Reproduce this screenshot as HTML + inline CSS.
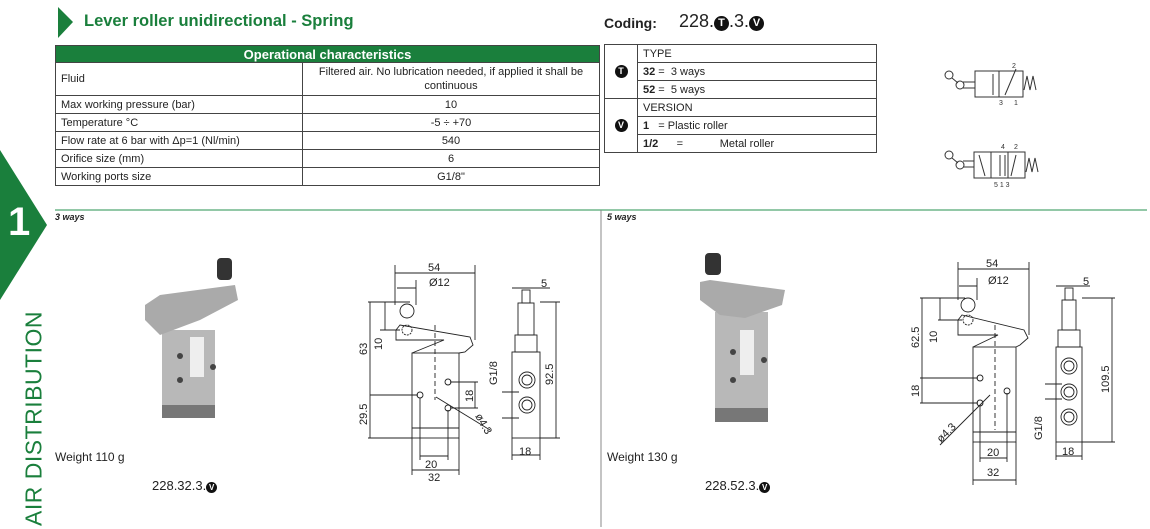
<!DOCTYPE html>
<html><head><meta charset="utf-8"><style>
body{margin:0;width:1150px;height:527px;background:#fff;position:relative;overflow:hidden;font-family:"Liberation Sans",sans-serif;color:#222}
.a{position:absolute;white-space:nowrap}
table{border-collapse:collapse;position:absolute;font-size:11px}
td{border:1px solid #444;padding:0 5px;height:17px}
</style></head><body>
<svg class="a" style="left:0;top:0" width="1150" height="527">
<polygon points="58,7 73,22 58,38" fill="#1a7f3c"/>
<polygon points="0,150 47,225 0,300" fill="#1a7f3c"/>
<line x1="55" y1="210" x2="1147" y2="210" stroke="#6fb58a" stroke-width="1.5"/>
<line x1="601" y1="210" x2="601" y2="527" stroke="#888" stroke-width="1"/>
<g stroke="#333" fill="none" stroke-width="1">
<rect x="975" y="71" width="48" height="26"/><line x1="999" y1="71" x2="999" y2="97"/>
<circle cx="949" cy="75" r="4"/><circle cx="960" cy="85" r="4"/><line x1="952" y1="78" x2="958" y2="83"/><line x1="963" y1="82" x2="975" y2="82"/><line x1="963" y1="88" x2="975" y2="88"/>
<line x1="993" y1="95" x2="993" y2="74"/><line x1="1016" y1="69" x2="1005" y2="95"/>
<polyline points="1024,90 1027,76 1030,90 1033,76 1036,90"/>
<rect x="974" y="152" width="51" height="26"/><line x1="991" y1="152" x2="991" y2="178"/><line x1="1008" y1="152" x2="1008" y2="178"/>
<circle cx="949" cy="155" r="4"/><circle cx="960" cy="165" r="4"/><line x1="952" y1="158" x2="958" y2="163"/><line x1="963" y1="161" x2="974" y2="161"/><line x1="963" y1="167" x2="974" y2="167"/>
<line x1="979" y1="155" x2="985" y2="176"/><line x1="1000" y1="155" x2="1000" y2="176"/><line x1="1005" y1="155" x2="1005" y2="176"/><line x1="1016" y1="155" x2="1011" y2="176"/>
<polyline points="1026,172 1029,158 1032,172 1035,158 1038,172"/>
</g>
<g font-size="7" fill="#333"><text x="1012" y="68">2</text><text x="999" y="105">3</text><text x="1014" y="105">1</text>
<text x="1001" y="149">4</text><text x="1014" y="149">2</text><text x="994" y="187">5 1 3</text></g>
<g>
<rect x="162" y="330" width="53" height="88" fill="#b8b8b8"/><rect x="162" y="405" width="53" height="13" fill="#777"/>
<rect x="190" y="337" width="14" height="40" fill="#eee"/>
<polygon points="145,305 160,295 235,285 238,300 200,320 160,335 145,320" fill="#aaa"/>
<rect x="217" y="258" width="15" height="22" rx="4" fill="#333"/>
<circle cx="180" cy="356" r="3" fill="#444"/><circle cx="180" cy="380" r="3" fill="#444"/><circle cx="213" cy="367" r="3" fill="#444"/>
<rect x="715" y="312" width="53" height="110" fill="#b8b8b8"/><rect x="715" y="408" width="53" height="14" fill="#777"/>
<rect x="740" y="330" width="14" height="45" fill="#eee"/>
<polygon points="700,282 710,280 785,290 782,305 745,318 720,315 700,300" fill="#aaa"/>
<rect x="705" y="253" width="16" height="22" rx="4" fill="#333"/>
<circle cx="733" cy="352" r="3" fill="#444"/><circle cx="733" cy="380" r="3" fill="#444"/><circle cx="764" cy="360" r="3" fill="#444"/>
</g>
<g stroke="#222" fill="none" stroke-width="0.9">
<rect x="412" y="353" width="47" height="85"/><line x1="412" y1="428" x2="459" y2="428"/>
<polyline points="396,330 400,325 470,337 473,345 465,352 459,353"/><polyline points="396,330 396,340 444,340 412,353"/>
<circle cx="407" cy="311" r="7"/><circle cx="407" cy="330" r="5" stroke-dasharray="2,1"/>
<line x1="435" y1="325" x2="435" y2="400" stroke-dasharray="5,3"/>
<circle cx="448" cy="382" r="3"/><circle cx="448" cy="408" r="3"/><circle cx="420" cy="395" r="3"/>
<line x1="395" y1="265" x2="395" y2="305"/><line x1="475" y1="265" x2="475" y2="340"/><line x1="395" y1="273" x2="475" y2="273"/>
<line x1="397" y1="288" x2="416" y2="288"/><line x1="416" y1="280" x2="416" y2="305"/>
<line x1="368" y1="302" x2="410" y2="302"/><line x1="368" y1="438" x2="412" y2="438"/><line x1="370" y1="302" x2="370" y2="438"/>
<line x1="385" y1="302" x2="385" y2="330"/><line x1="380" y1="330" x2="400" y2="330"/>
<line x1="370" y1="395" x2="418" y2="395"/>
<line x1="412" y1="438" x2="412" y2="475"/><line x1="459" y1="438" x2="459" y2="475"/><line x1="412" y1="470" x2="459" y2="470"/>
<line x1="420" y1="398" x2="420" y2="460"/><line x1="448" y1="410" x2="448" y2="460"/><line x1="420" y1="456" x2="448" y2="456"/>
<line x1="450" y1="382" x2="478" y2="382"/><line x1="450" y1="408" x2="478" y2="408"/><line x1="475" y1="382" x2="475" y2="408"/>
<line x1="436" y1="397" x2="490" y2="430"/>
<rect x="512" y="352" width="28" height="86"/><rect x="515" y="335" width="22" height="17"/><rect x="518" y="303" width="16" height="32"/><rect x="522" y="290" width="8" height="13"/>
<circle cx="527" cy="380" r="8"/><circle cx="527" cy="380" r="5"/><circle cx="527" cy="405" r="8"/><circle cx="527" cy="405" r="5"/>
<line x1="540" y1="302" x2="560" y2="302"/><line x1="540" y1="438" x2="560" y2="438"/><line x1="556" y1="302" x2="556" y2="438"/>
<line x1="512" y1="438" x2="512" y2="460"/><line x1="540" y1="438" x2="540" y2="460"/><line x1="512" y1="455" x2="540" y2="455"/>
<line x1="512" y1="288" x2="550" y2="288"/><line x1="502" y1="392" x2="519" y2="392"/><line x1="502" y1="418" x2="519" y2="418"/>
</g>
<g stroke="#222" fill="none" stroke-width="0.9">
<rect x="973" y="347" width="43" height="95"/><line x1="973" y1="432" x2="1016" y2="432"/>
<polyline points="958,320 962,315 1024,330 1028,338 1020,345 1016,347"/><polyline points="958,320 958,335 998,335 973,347"/>
<circle cx="968" cy="305" r="7"/><circle cx="968" cy="320" r="5" stroke-dasharray="2,1"/>
<line x1="995" y1="325" x2="995" y2="430" stroke-dasharray="5,3"/>
<circle cx="980" cy="378" r="3"/><circle cx="980" cy="403" r="3"/><circle cx="1007" cy="391" r="3"/>
<line x1="958" y1="262" x2="958" y2="300"/><line x1="1029" y1="262" x2="1029" y2="335"/><line x1="958" y1="269" x2="1029" y2="269"/>
<line x1="959" y1="286" x2="977" y2="286"/><line x1="977" y1="278" x2="977" y2="300"/>
<line x1="920" y1="298" x2="965" y2="298"/><line x1="922" y1="298" x2="922" y2="403"/>
<line x1="940" y1="298" x2="940" y2="320"/><line x1="938" y1="320" x2="962" y2="320"/>
<line x1="920" y1="378" x2="978" y2="378"/><line x1="920" y1="403" x2="978" y2="403"/>
<line x1="940" y1="445" x2="990" y2="395"/>
<line x1="973" y1="442" x2="973" y2="485"/><line x1="1016" y1="442" x2="1016" y2="485"/><line x1="973" y1="480" x2="1016" y2="480"/>
<line x1="980" y1="405" x2="980" y2="462"/><line x1="1007" y1="393" x2="1007" y2="462"/><line x1="980" y1="458" x2="1007" y2="458"/>
<rect x="1056" y="347" width="26" height="95"/><rect x="1058" y="330" width="22" height="17"/><rect x="1062" y="300" width="14" height="30"/><rect x="1065" y="288" width="8" height="12"/>
<circle cx="1069" cy="366" r="8"/><circle cx="1069" cy="366" r="5"/><circle cx="1069" cy="392" r="8"/><circle cx="1069" cy="392" r="5"/><circle cx="1069" cy="417" r="8"/><circle cx="1069" cy="417" r="5"/>
<line x1="1082" y1="298" x2="1115" y2="298"/><line x1="1082" y1="442" x2="1115" y2="442"/><line x1="1112" y1="298" x2="1112" y2="442"/>
<line x1="1056" y1="442" x2="1056" y2="460"/><line x1="1082" y1="442" x2="1082" y2="460"/><line x1="1056" y1="456" x2="1082" y2="456"/>
<line x1="1056" y1="286" x2="1090" y2="286"/><line x1="1045" y1="384" x2="1062" y2="384"/><line x1="1045" y1="399" x2="1062" y2="399"/>
</g>
<g font-size="11" fill="#222">
<text x="428" y="271">54</text><text x="429" y="286">Ø12</text><text x="541" y="287">5</text>
<text x="425" y="468">20</text>
<text x="428" y="481">32</text><text x="519" y="455">18</text>
<text transform="translate(367,355) rotate(-90)">63</text><text transform="translate(382,350) rotate(-90)">10</text>
<text transform="translate(367,425) rotate(-90)">29.5</text><text transform="translate(473,402) rotate(-90)">18</text>
<text transform="translate(497,385) rotate(-90)">G1/8</text><text transform="translate(553,385) rotate(-90)">92.5</text>
<text transform="translate(475,416) rotate(60)">ø4.3</text>
<text x="986" y="267">54</text><text x="988" y="284">Ø12</text><text x="1083" y="285">5</text>
<text x="987" y="456">20</text><text x="987" y="476">32</text><text x="1062" y="455">18</text>
<text transform="translate(919,348) rotate(-90)">62.5</text><text transform="translate(937,343) rotate(-90)">10</text>
<text transform="translate(919,397) rotate(-90)">18</text><text transform="translate(1042,440) rotate(-90)">G1/8</text>
<text transform="translate(1109,393) rotate(-90)">109.5</text>
<text transform="translate(941,443) rotate(-45)">ø4.3</text>
</g>
</svg>
<div class="a" style="left:84px;top:12px;font-size:16.5px;font-weight:bold;color:#1a7f3c">Lever roller unidirectional - Spring</div>
<div class="a" style="left:8px;top:200px;font-size:40px;font-weight:bold;color:#fff">1</div>
<div class="a" style="left:-76px;top:405px;width:220px;text-align:center;transform:rotate(-90deg);font-size:23px;color:#1a7f3c;letter-spacing:0.5px">AIR DISTRIBUTION</div>
<table style="left:55px;top:45px;width:545px">
<tr><td colspan="2" style="background:#1a7f3c;color:#fff;font-weight:bold;font-size:13px;text-align:center;height:16px">Operational characteristics</td></tr>
<tr><td style="width:236px;height:32px">Fluid</td><td style="text-align:center;line-height:14px">Filtered air. No lubrication needed, if applied it shall be continuous</td></tr>
<tr><td>Max working pressure (bar)</td><td style="text-align:center">10</td></tr>
<tr><td>Temperature °C</td><td style="text-align:center">-5 ÷ +70</td></tr>
<tr><td>Flow rate at 6 bar with Δp=1 (Nl/min)</td><td style="text-align:center">540</td></tr>
<tr><td>Orifice size (mm)</td><td style="text-align:center">6</td></tr>
<tr><td>Working ports size</td><td style="text-align:center">G1/8"</td></tr>
</table>
<div class="a" style="left:604px;top:15px;font-size:14px;font-weight:bold">Coding:</div>
<div class="a" style="left:679px;top:11px;font-size:18px">228.<span style="display:inline-block;width:15px;height:15px;border-radius:50%;background:#111;color:#fff;font-size:11px;font-weight:bold;text-align:center;line-height:15px;vertical-align:1px">T</span>.3.<span style="display:inline-block;width:15px;height:15px;border-radius:50%;background:#111;color:#fff;font-size:11px;font-weight:bold;text-align:center;line-height:15px;vertical-align:1px">V</span></div>
<table style="left:604px;top:44px;width:273px">
<tr><td rowspan="3" style="width:22px;text-align:center"><span style="display:inline-block;width:13px;height:13px;border-radius:50%;background:#111;color:#fff;font-size:9px;font-weight:bold;line-height:13px">T</span></td><td>TYPE</td></tr>
<tr><td><b>32</b> =&nbsp; 3 ways</td></tr><tr><td><b>52</b> =&nbsp; 5 ways</td></tr>
<tr><td rowspan="3" style="text-align:center"><span style="display:inline-block;width:13px;height:13px;border-radius:50%;background:#111;color:#fff;font-size:9px;font-weight:bold;line-height:13px">V</span></td><td>VERSION</td></tr>
<tr><td><b>1</b> &nbsp;&nbsp;= Plastic roller</td></tr><tr><td><b>1/2</b> &nbsp;&nbsp;&nbsp;&nbsp;&nbsp;= &nbsp;&nbsp;&nbsp;&nbsp;&nbsp;&nbsp;&nbsp;&nbsp;&nbsp;&nbsp;&nbsp;Metal roller</td></tr>
</table>
<div class="a" style="left:55px;top:212px;font-size:9px;font-weight:bold;font-style:italic">3 ways</div>
<div class="a" style="left:607px;top:212px;font-size:9px;font-weight:bold;font-style:italic">5 ways</div>
<div class="a" style="left:55px;top:450px;font-size:12px">Weight 110 g</div>
<div class="a" style="left:607px;top:450px;font-size:12px">Weight 130 g</div>
<div class="a" style="left:152px;top:478px;font-size:13px">228.32.3.<span style="display:inline-block;width:11px;height:11px;border-radius:50%;background:#111;color:#fff;font-size:8px;font-weight:bold;text-align:center;line-height:11px">V</span></div>
<div class="a" style="left:705px;top:478px;font-size:13px">228.52.3.<span style="display:inline-block;width:11px;height:11px;border-radius:50%;background:#111;color:#fff;font-size:8px;font-weight:bold;text-align:center;line-height:11px">V</span></div>
</body></html>
